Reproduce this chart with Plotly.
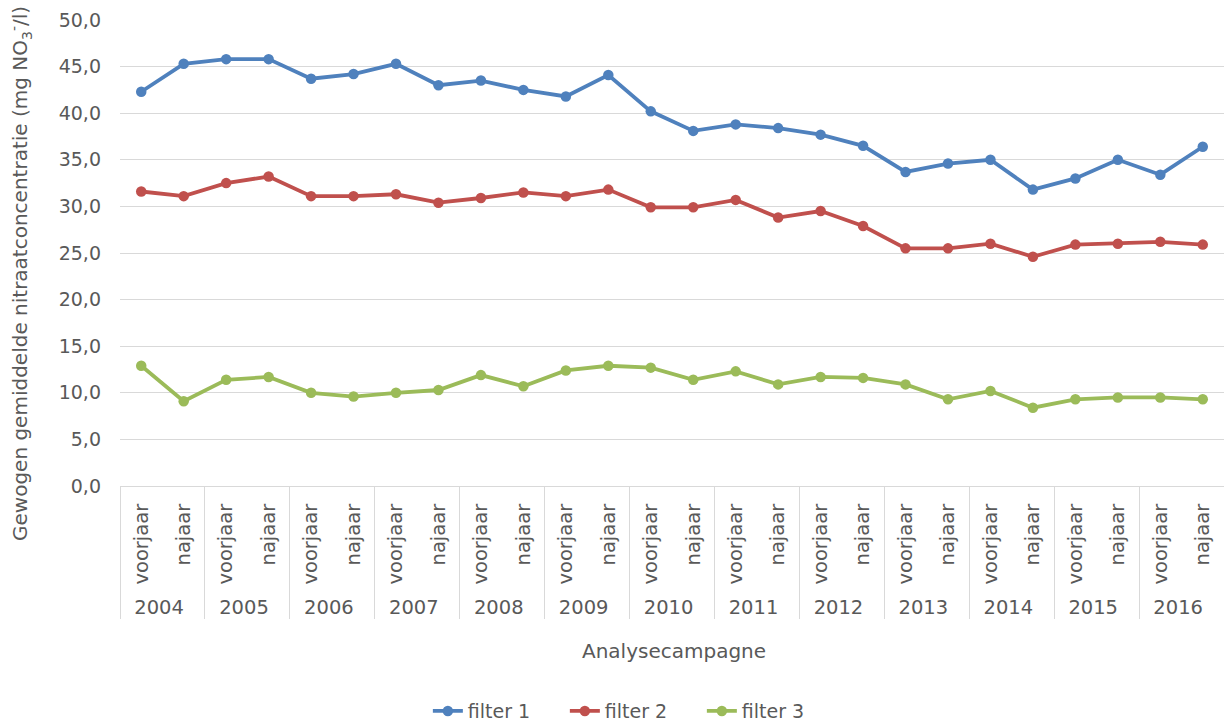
import plotly.graph_objects as go

years = [str(y) for y in range(2004, 2017)]
seasons = ["voorjaar", "najaar"]

filter1 = [42.3, 45.3, 45.8, 45.8, 43.7, 44.2, 45.3, 43.0, 43.5, 42.5, 41.8, 44.1, 40.2,
           38.1, 38.8, 38.4, 37.7, 36.5, 33.7, 34.6, 35.0, 31.8, 33.0, 35.0, 33.4, 36.4]
filter2 = [31.6, 31.1, 32.5, 33.2, 31.1, 31.1, 31.3, 30.4, 30.9, 31.5, 31.1, 31.8, 29.9,
           29.9, 30.7, 28.8, 29.5, 27.9, 25.5, 25.5, 26.0, 24.6, 25.9, 26.0, 26.2, 25.9]
filter3 = [12.9, 9.1, 11.4, 11.7, 10.0, 9.6, 10.0, 10.3, 11.9, 10.7, 12.4, 12.9, 12.7,
           11.4, 12.3, 10.9, 11.7, 11.6, 10.9, 9.3, 10.2, 8.4, 9.3, 9.5, 9.5, 9.3]

series_names = ["filter 1", "filter 2", "filter 3"]
series_colors = ["#4F81BD", "#C0504D", "#9BBB59"]

x_outer = [y for y in years for s in seasons]
x_inner = [s for y in years for s in seasons]

FONT = "DejaVu Sans"
TXT = "#595959"
GRID = "#d9d9d9"
FS = 19

fig = go.Figure()
for name, vals, col in zip(series_names, [filter1, filter2, filter3], series_colors):
    fig.add_trace(go.Scatter(
        x=[x_outer, x_inner], y=vals, name=name, mode="lines+markers",
        line=dict(color=col, width=3.8),
        marker=dict(color=col, size=10.5, symbol="circle"),
    ))

fig.update_layout(
    width=1224, height=722,
    margin=dict(l=120, r=0, t=20, b=236, autoexpand=False),
    paper_bgcolor="white", plot_bgcolor="white",
    separators=", ",
    font=dict(family=FONT, size=FS, color=TXT),
    showlegend=True,
    legend=dict(orientation="h", x=0.465, xanchor="center", y=-0.483, yanchor="middle",
                font=dict(family=FONT, size=FS, color=TXT), entrywidth=92,
                entrywidthmode="pixels"),
    xaxis=dict(
        type="multicategory", tickangle=-90, showgrid=False,
        range=[-0.5, len(x_inner) - 0.5],
        showline=True, linecolor=GRID, linewidth=1,
        showdividers=True, dividercolor=GRID, dividerwidth=1,
        tickfont=dict(family=FONT, size=FS + 0.5, color=TXT),
        ticks="", ticklabelstandoff=9, automargin=False,
    ),
    yaxis=dict(
        range=[0, 50], dtick=5, tickformat=".1f",
        showgrid=True, gridcolor=GRID, gridwidth=1,
        zeroline=True, zerolinecolor=GRID, zerolinewidth=1,
        showline=False, ticks="", ticklabelstandoff=18,
        tickfont=dict(family=FONT, size=FS, color=TXT), automargin=False,
    ),
)

fig.add_annotation(
    text="Gewogen gemiddelde nitraatconcentratie (mg NO<sub>3</sub><sup>-</sup>/l)",
    xref="paper", yref="paper", x=-0.0906, y=0.457, xanchor="center", yanchor="middle",
    textangle=-90, showarrow=False, font=dict(family=FONT, size=20, color=TXT),
)
fig.add_annotation(
    text="Analysecampagne",
    xref="paper", yref="paper", x=0.502, y=-0.354, xanchor="center", yanchor="middle",
    showarrow=False, font=dict(family=FONT, size=20, color=TXT),
)

fig.write_html("out.html", config={"displayModeBar": False},
               post_script="document.body.style.margin='0';document.body.style.overflow='hidden';")
